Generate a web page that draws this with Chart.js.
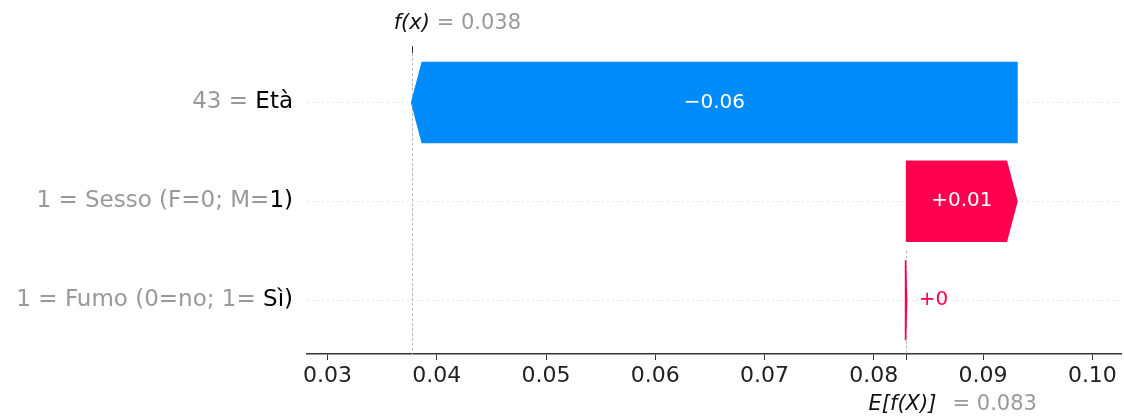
<!DOCTYPE html>
<html>
<head>
<meta charset="utf-8">
<script src="https://cdn.jsdelivr.net/npm/chart.js@4/dist/chart.umd.min.js"></script>
<style>
  html, body { margin: 0; padding: 0; background: #ffffff; }
  canvas { display: block; }
</style>
</head>
<body>
<canvas id="c" width="1124" height="419"></canvas>
<script>
// Rows from top to bottom: grey "value = feature" part, then the dark tail of the label
const labelGray = ['43 = ', '1 = Sesso (F=0; M=', '1 = Fumo (0=no; 1= '];
const labelDark = ['Età', '1)', 'Sì)'];
// Contribution of each feature (same row order)
const shapValues = [-0.0554, 0.0101, 0.0001];
// Expected model output
const baseValue = 0.0829;
// Axis ticks
const tickValues = [0.03, 0.04, 0.05, 0.06, 0.07, 0.08, 0.09, 0.10];
const tickLabels = ['0.03', '0.04', '0.05', '0.06', '0.07', '0.08', '0.09', '0.10'];

const RED = '#ff0051';
const BLUE = '#008bfb';
const GREY = '#999999';
const FONT = '"DejaVu Sans", Verdana, sans-serif';

// Waterfall: accumulate from the bottom row upward, starting at the base value
const n = shapValues.length;
const starts = new Array(n), ends = new Array(n);
let acc = baseValue;
for (let i = n - 1; i >= 0; i--) {
  starts[i] = acc;
  acc += shapValues[i];
  ends[i] = acc;
}
const fx = acc;

function fmtShap(v) {
  let s = Math.abs(v).toFixed(2).replace(/0+$/, '').replace(/\.$/, '');
  return (v < 0 ? '\u2212' : '+') + s;
}

const waterfall = {
  id: 'waterfall',
  beforeDatasetsDraw(chart) {
    const { ctx, chartArea: a, scales: { x, y } } = chart;
    ctx.save();
    // faint row guides
    ctx.strokeStyle = '#e6e6e6';
    ctx.lineWidth = 1;
    ctx.setLineDash([2, 3]);
    for (let i = 0; i < n; i++) {
      const py = Math.round(y.getPixelForValue(i)) + 0.5;
      ctx.beginPath();
      ctx.moveTo(a.left, py);
      ctx.lineTo(a.right, py);
      ctx.stroke();
    }
    // reference lines at f(x) and E[f(X)]
    ctx.strokeStyle = '#bbbbbb';
    ctx.setLineDash([3, 2]);
    const pfx = Math.round(x.getPixelForValue(fx)) + 0.5;
    ctx.beginPath();
    ctx.moveTo(pfx, a.top);
    ctx.lineTo(pfx, a.bottom);
    ctx.stroke();
    const pb = Math.round(x.getPixelForValue(baseValue)) + 0.5;
    ctx.beginPath();
    ctx.moveTo(pb, y.getPixelForValue(n - 1.5));
    ctx.lineTo(pb, a.bottom);
    ctx.stroke();
    ctx.restore();
  },
  afterDatasetsDraw(chart) {
    const { ctx, scales: { x } } = chart;
    const meta = chart.getDatasetMeta(0);
    ctx.save();
    meta.data.forEach((bar, i) => {
      const p0 = x.getPixelForValue(starts[i]);
      const p1 = x.getPixelForValue(ends[i]);
      const top = bar.y - bar.height / 2, bottom = bar.y + bar.height / 2;
      const dir = p1 >= p0 ? 1 : -1;
      const head = Math.min(10.5, Math.abs(p1 - p0));
      const color = shapValues[i] >= 0 ? RED : BLUE;
      ctx.beginPath();
      ctx.moveTo(p0, top);
      ctx.lineTo(p1 - dir * head, top);
      ctx.lineTo(p1, bar.y);
      ctx.lineTo(p1 - dir * head, bottom);
      ctx.lineTo(p0, bottom);
      ctx.closePath();
      ctx.fillStyle = color;
      ctx.fill();
      ctx.strokeStyle = color;
      ctx.lineWidth = 1.5;
      ctx.lineJoin = 'miter';
      ctx.stroke();

      // value label
      const txt = fmtShap(shapValues[i]);
      ctx.font = '20px ' + FONT;
      ctx.textBaseline = 'middle';
      const tw = ctx.measureText(txt).width;
      if (tw + 20 < Math.abs(p1 - p0)) {
        ctx.fillStyle = '#ffffff';
        ctx.textAlign = 'center';
        ctx.fillText(txt, (p0 + p1) / 2, bar.y);
      } else {
        ctx.fillStyle = color;
        if (dir > 0) {
          ctx.textAlign = 'left';
          ctx.fillText(txt, Math.max(p0, p1) + 12, bar.y);
        } else {
          ctx.textAlign = 'right';
          ctx.fillText(txt, Math.min(p0, p1) - 12, bar.y);
        }
      }
    });
    ctx.restore();
  },
  afterDraw(chart) {
    const { ctx, chartArea: a, scales: { x, y } } = chart;
    ctx.save();
    // feature labels
    ctx.font = '23px ' + FONT;
    ctx.textBaseline = 'middle';
    ctx.textAlign = 'right';
    const rx = a.left - 14;
    for (let i = 0; i < n; i++) {
      const py = y.getPixelForValue(i);
      ctx.fillStyle = '#000000';
      ctx.fillText(labelDark[i], rx, py);
      const dw = ctx.measureText(labelDark[i]).width;
      ctx.fillStyle = GREY;
      ctx.fillText(labelGray[i], rx - dw, py);
    }

    // f(x) marker at the top
    const pfx = x.getPixelForValue(fx);
    ctx.strokeStyle = '#333333';
    ctx.lineWidth = 1;
    ctx.setLineDash([]);
    ctx.beginPath();
    ctx.moveTo(Math.round(pfx) + 0.5, a.top - 7);
    ctx.lineTo(Math.round(pfx) + 0.5, a.top);
    ctx.stroke();
    ctx.textAlign = 'left';
    ctx.textBaseline = 'middle';
    ctx.font = 'italic 21px ' + FONT;
    ctx.fillStyle = '#111111';
    ctx.fillText('f(x)', pfx - 18, 24);
    ctx.font = '21px ' + FONT;
    ctx.fillStyle = GREY;
    ctx.fillText('= ' + fx.toFixed(3), pfx + 25, 24);

    // E[f(X)] marker at the bottom
    const pb = x.getPixelForValue(baseValue);
    ctx.beginPath();
    ctx.moveTo(Math.round(pb) + 0.5, a.bottom);
    ctx.lineTo(Math.round(pb) + 0.5, a.bottom + 6);
    ctx.stroke();
    ctx.font = 'italic 21px ' + FONT;
    ctx.fillStyle = '#111111';
    ctx.fillText('E[f(X)]', pb - 37, 405);
    ctx.font = '21px ' + FONT;
    ctx.fillStyle = GREY;
    ctx.fillText('= ' + baseValue.toFixed(3), pb + 47, 405);
    ctx.restore();
  }
};

new Chart(document.getElementById('c'), {
  type: 'bar',
  data: {
    datasets: [{
      data: shapValues.map((v, i) => ({ x: [starts[i], ends[i]], y: i })),
      backgroundColor: 'rgba(0,0,0,0)',
      borderWidth: 0,
      barThickness: 80
    }]
  },
  options: {
    indexAxis: 'y',
    responsive: false,
    animation: false,
    devicePixelRatio: 1,
    layout: { padding: { left: 307, right: 3, top: 53, bottom: 26.6 } },
    scales: {
      x: {
        type: 'linear',
        position: 'bottom',
        min: 0.02812,
        max: 0.10262,
        afterBuildTicks(scale) {
          scale.ticks = tickValues.map(v => ({ value: v }));
        },
        ticks: {
          autoSkip: false,
          maxRotation: 0,
          padding: 3,
          color: '#222222',
          font: { family: FONT, size: 22 },
          callback: (value, index) => tickLabels[index]
        },
        grid: {
          display: true,
          drawOnChartArea: false,
          drawTicks: true,
          tickLength: 6,
          color: '#333333',
          lineWidth: 1
        },
        border: { display: true, color: '#333333', width: 1.6 }
      },
      y: {
        type: 'linear',
        reverse: true,
        offset: false,
        min: -0.5,
        max: 2.545,
        display: false
      }
    },
    plugins: {
      legend: { display: false },
      tooltip: { enabled: false }
    }
  },
  plugins: [waterfall]
});
</script>
</body>
</html>
